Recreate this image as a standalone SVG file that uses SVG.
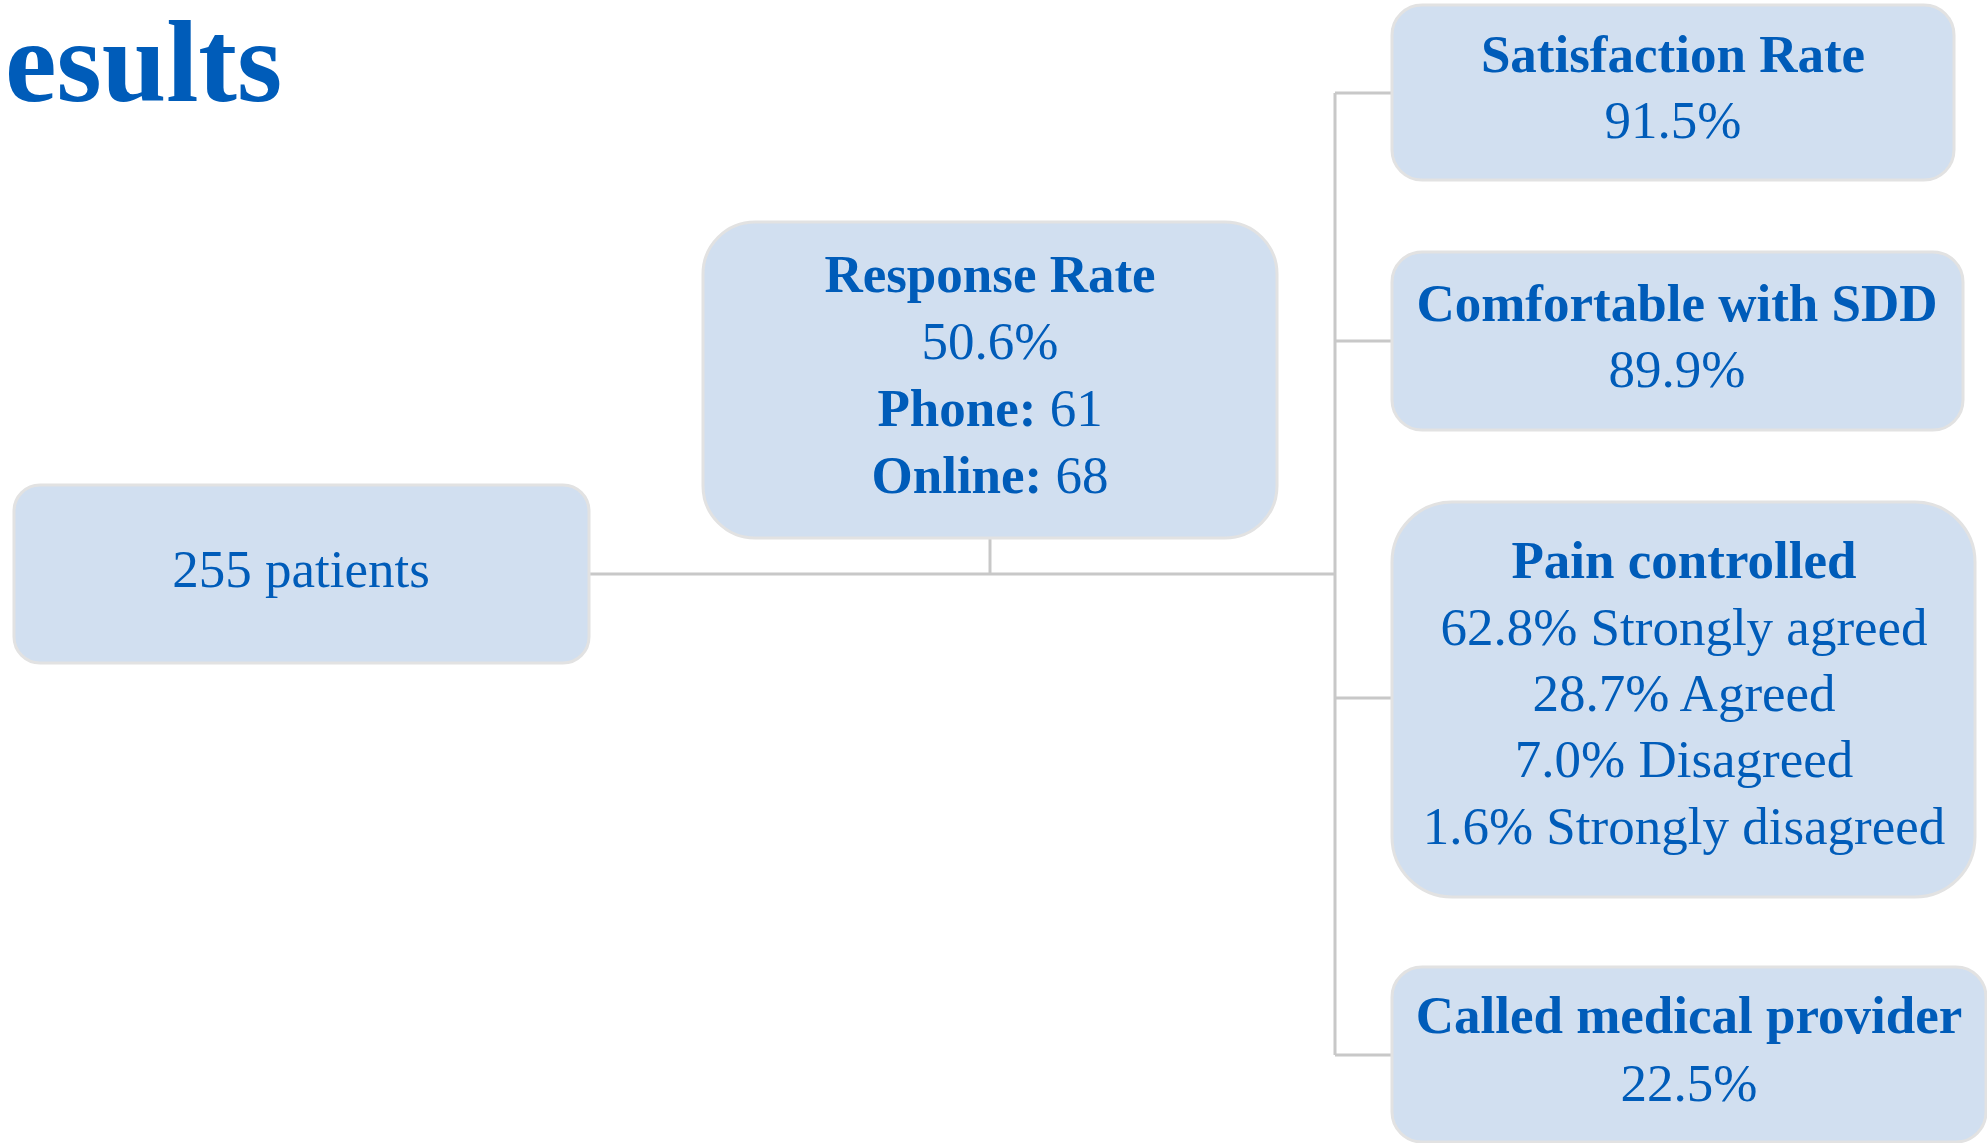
<svg xmlns="http://www.w3.org/2000/svg" width="1987" height="1143" viewBox="0 0 1987 1143">
<style>
.box{fill:#d1dff0;stroke:#e2e2e2;stroke-width:3}
.t{font-family:"Liberation Serif","Times New Roman",serif;font-size:53px;fill:#005cb9;text-anchor:middle}
.b{font-weight:bold}
.c{stroke:#c8c8c8;stroke-width:3;fill:none}
</style>
<rect width="1987" height="1143" fill="#ffffff"/>
<text x="5" y="101" style="font-family:'Liberation Serif','Times New Roman',serif;font-size:116px;font-weight:bold;fill:#005cb9">esults</text>
<g id="connectors">
<path class="c" d="M589 574H1335"/>
<path class="c" d="M990 538V574"/>
<path class="c" d="M1335 93V1055"/>
<path class="c" d="M1335 93H1392M1335 341H1392M1335 698H1392M1335 1055H1392"/>
</g>
<g id="patients">
<rect class="box" x="14" y="485" width="575" height="178" rx="26"/>
<text class="t" x="301" y="587">255 patients</text>
</g>
<g id="response">
<rect class="box" x="703" y="222" width="574" height="316" rx="52"/>
<text class="t b" x="990" y="292">Response Rate</text>
<text class="t" x="990" y="359">50.6%</text>
<text class="t" x="990" y="426"><tspan class="b">Phone:</tspan> 61</text>
<text class="t" x="990" y="493"><tspan class="b">Online:</tspan> 68</text>
</g>
<g id="satisfaction">
<rect class="box" x="1392" y="5" width="562" height="175" rx="30"/>
<text class="t b" x="1673" y="72">Satisfaction Rate</text>
<text class="t" x="1673" y="138">91.5%</text>
</g>
<g id="comfortable">
<rect class="box" x="1392" y="252" width="571" height="178" rx="30"/>
<text class="t b" x="1677" y="321">Comfortable with SDD</text>
<text class="t" x="1677" y="387">89.9%</text>
</g>
<g id="pain">
<rect class="box" x="1392" y="502" width="583" height="395" rx="60"/>
<text class="t b" x="1684" y="578">Pain controlled</text>
<text class="t" x="1684" y="645">62.8% Strongly agreed</text>
<text class="t" x="1684" y="711">28.7% Agreed</text>
<text class="t" x="1684" y="777">7.0% Disagreed</text>
<text class="t" x="1684" y="844">1.6% Strongly disagreed</text>
</g>
<g id="called">
<rect class="box" x="1392" y="967" width="594" height="175" rx="30"/>
<text class="t b" x="1689" y="1033">Called medical provider</text>
<text class="t" x="1689" y="1101">22.5%</text>
</g>
</svg>
